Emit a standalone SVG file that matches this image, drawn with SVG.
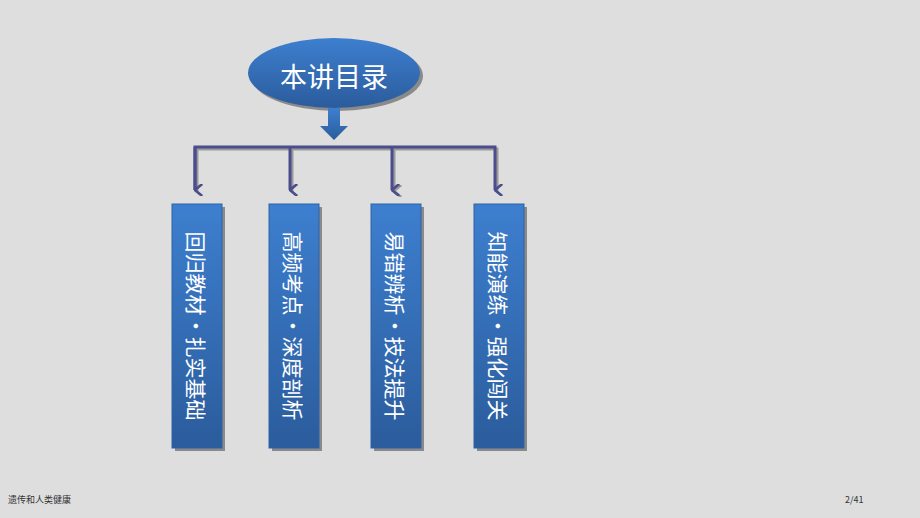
<svg xmlns="http://www.w3.org/2000/svg" width="920" height="518" viewBox="0 0 920 518">
<defs>
<linearGradient id="g" x1="0" y1="0" x2="0" y2="1"><stop offset="0" stop-color="#3d7fcf"/><stop offset="1" stop-color="#2b5c9c"/></linearGradient>
<marker id="ah" viewBox="0 0 10 10" refX="5" refY="9" markerWidth="12" markerHeight="12" markerUnits="userSpaceOnUse" orient="auto-start-reverse"><path d="M0,3 L5,9 L10,3" fill="none" stroke="#4b4d8c" stroke-width="2.2"/></marker>
<marker id="ahs" viewBox="0 0 10 10" refX="5" refY="9" markerWidth="12" markerHeight="12" markerUnits="userSpaceOnUse" orient="auto-start-reverse"><path d="M0,3 L5,9 L10,3" fill="none" stroke="#9a9a9a" stroke-width="2.2"/></marker>
</defs>
<style>
.box{fill:url(#g);stroke:#2d62a8;stroke-width:1}
.sh{fill:#8a8a8a}
.vt{font-family:"Noto Sans CJK SC",sans-serif;font-size:21px;fill:#fff;text-anchor:middle;dominant-baseline:central}
.ln{fill:none;stroke:#4b4d8c;stroke-width:3}
.lns{fill:none;stroke:#9a9a9a;stroke-width:3}
.ft{font-family:"Noto Sans CJK SC",sans-serif;font-size:9px;fill:#333}
</style>
<rect width="920" height="518" fill="#dedede"/>
<g id="title">
<ellipse cx="337" cy="76" rx="86" ry="35" fill="#8a8a8a"/>
<ellipse cx="334" cy="73" rx="86" ry="35" fill="url(#g)"/>
<text x="334" y="75" font-family="Noto Sans CJK SC,sans-serif" font-size="27" fill="#fff" text-anchor="middle" dominant-baseline="central">本讲目录</text>
<path d="M328,108 H340 V126 H348 L334,140 L320,126 H328 Z" fill="url(#g)"/>
</g>
<g id="connectors">
<path class="lns" d="M197,191 V149 H497 V191 M292,149 V191 M394,149 V191" marker-end="url(#ahs)"/>
<path class="ln" d="M195,190 V147 H495 V190" marker-end="url(#ah)"/>
<path class="ln" d="M290,147 V190" marker-end="url(#ah)"/>
<path class="ln" d="M392,147 V190" marker-end="url(#ah)"/>
<path class="ln" d="M195,147 V190" marker-end="url(#ah)"/>
</g>
<g id="n1"><rect class="sh" x="175" y="207" width="50" height="244"/><rect class="box" x="172" y="204" width="50" height="244"/><text class="vt" transform="translate(197,326) rotate(90)">回归教材•扎实基础</text></g>
<g id="n2"><rect class="sh" x="272" y="207" width="50" height="244"/><rect class="box" x="269" y="204" width="50" height="244"/><text class="vt" transform="translate(294,326) rotate(90)">高频考点•深度剖析</text></g>
<g id="n3"><rect class="sh" x="374" y="207" width="50" height="244"/><rect class="box" x="371" y="204" width="50" height="244"/><text class="vt" transform="translate(396,326) rotate(90)">易错辨析•技法提升</text></g>
<g id="n4"><rect class="sh" x="477" y="207" width="50" height="244"/><rect class="box" x="474" y="204" width="50" height="244"/><text class="vt" transform="translate(499,326) rotate(90)">知能演练•强化闯关</text></g>
<text class="ft" x="8" y="503">遗传和人类健康</text>
<text class="ft" x="845" y="503">2/41</text>
</svg>
